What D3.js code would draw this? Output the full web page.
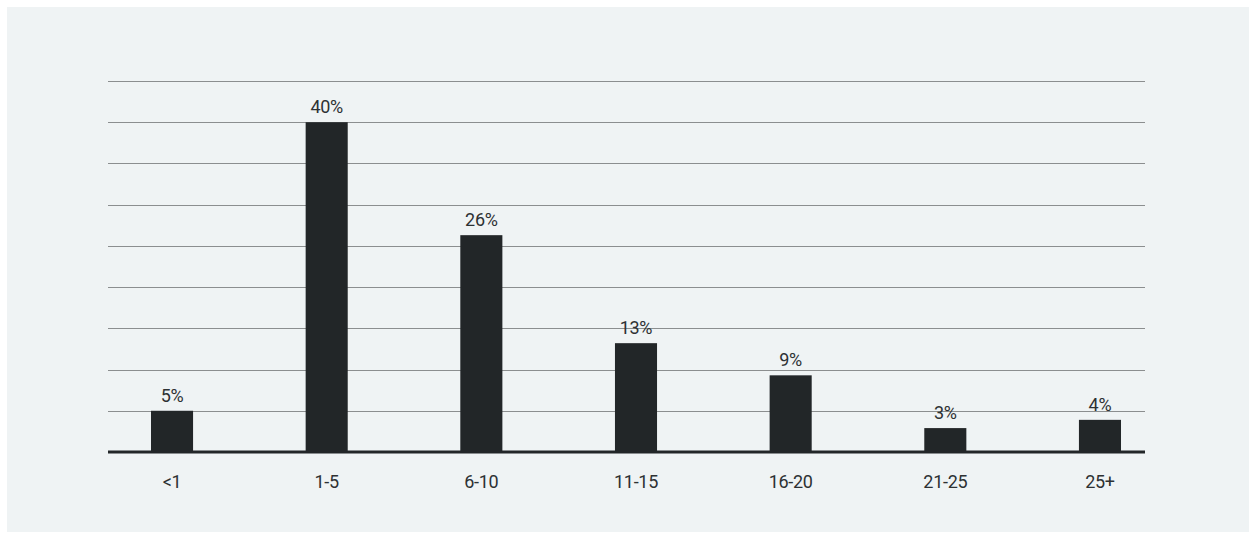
<!DOCTYPE html>
<html>
<head>
<meta charset="utf-8">
<script src="https://cdn.jsdelivr.net/npm/d3@7"></script>
<style>
  html, body { margin: 0; padding: 0; background: #ffffff; }
  svg { display: block; }
  text { font-family: Roboto, "DejaVu Sans", sans-serif; fill: #2d3133; }
</style>
</head>
<body>
<svg id="chart"></svg>
<script>
// data (bar heights are a bit off the round labels)
var categories = ["<1", "1-5", "6-10", "11-15", "16-20", "21-25", "25+"];
var shares = [5, 40, 26.3, 13.2, 9.3, 2.9, 3.9];
var gridTicks = [0, 5, 10, 15, 20, 25, 30, 35, 40, 45];

var W = 1250, H = 533;
var svg = d3.select("#chart").attr("width", W).attr("height", H);

svg.append("rect")
  .attr("x", 7).attr("y", 7)
  .attr("width", 1242).attr("height", 525)
  .attr("fill", "#eff3f4");

var plotLeft = 108, plotRight = 1145, plotTop = 81, plotBottom = 452;

var y = d3.scaleLinear().domain([0, 45]).range([plotBottom, plotTop]);

// bands are not centred on the grid, so stretch the range past it
var x = d3.scaleBand()
  .domain(categories)
  .range([94.7, 1177.3])
  .paddingInner(0.728)
  .paddingOuter(0.364);

var g = svg.append("g");

g.selectAll(".grid")
  .data(gridTicks.filter(function(d) { return d > 0; }))
  .enter().append("line")
  .attr("class", "grid")
  .attr("x1", plotLeft).attr("x2", plotRight)
  .attr("y1", function(d) { return Math.round(y(d)) + 0.5; })
  .attr("y2", function(d) { return Math.round(y(d)) + 0.5; })
  .attr("stroke", "#8b8e8f")
  .attr("stroke-width", 1);

g.selectAll(".bar")
  .data(shares)
  .enter().append("rect")
  .attr("class", "bar")
  .attr("x", function(d, i) { return x(categories[i]); })
  .attr("width", x.bandwidth())
  .attr("y", function(d) { return y(d); })
  .attr("height", function(d) { return plotBottom - y(d); })
  .attr("fill", "#222628");

g.append("line")
  .attr("x1", plotLeft).attr("x2", plotRight)
  .attr("y1", plotBottom).attr("y2", plotBottom)
  .attr("stroke", "#222628")
  .attr("stroke-width", 3);

g.selectAll(".val")
  .data(shares)
  .enter().append("text")
  .attr("class", "val")
  .attr("x", function(d, i) { return x(categories[i]) + x.bandwidth() / 2; })
  .attr("y", function(d) { return y(d) - 9; })
  .attr("text-anchor", "middle")
  .style("font-size", "18px")
  .style("letter-spacing", "-0.3px")
  .text(function(d) { return Math.round(d) + "%"; });

var xAxis = g.append("g")
  .attr("transform", "translate(0," + plotBottom + ")")
  .call(d3.axisBottom(x).tickSize(0).tickPadding(22));
xAxis.select(".domain").remove();
xAxis.selectAll("text")
  .attr("dy", null)
  .attr("y", 36)
  .style("font-size", "18px")
  .style("letter-spacing", "-0.3px")
  .style("font-family", "Roboto, 'DejaVu Sans', sans-serif")
  .attr("fill", "#2d3133");
</script>
</body>
</html>
